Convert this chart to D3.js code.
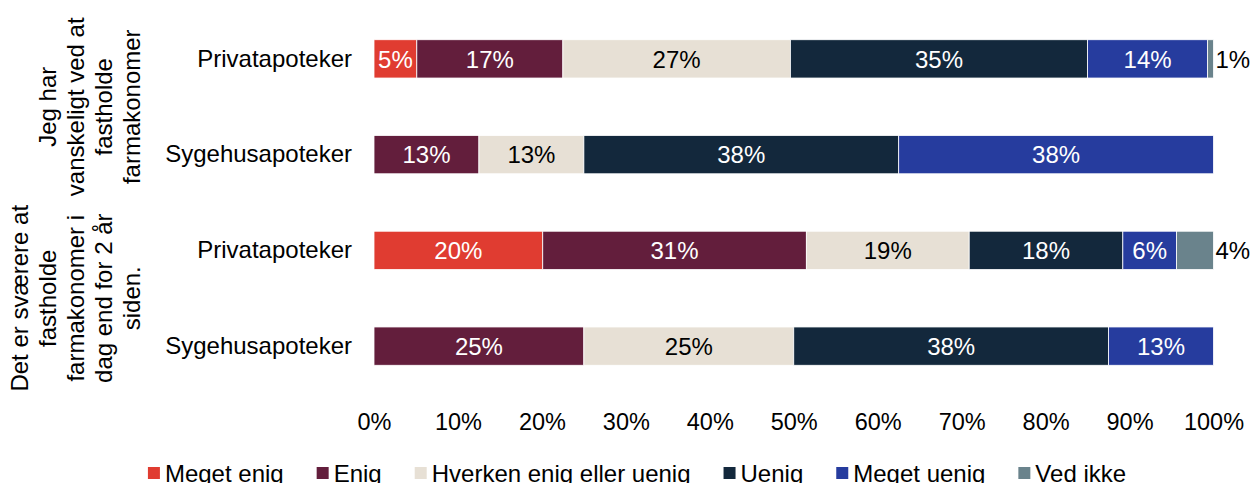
<!DOCTYPE html>
<html>
<head>
<meta charset="utf-8">
<script src="https://cdn.jsdelivr.net/npm/d3@7"></script>
<style>
    body { margin: 0; background: #fff; }
    svg text { font-family: Arial, "Liberation Sans", sans-serif; }
</style>
</head>
<body>
<svg id="bar_chart_svg" width="1253" height="483"></svg>
<script>

// rows, top to bottom
row_labels = ["Privatapoteker", "Sygehusapoteker", "Privatapoteker", "Sygehusapoteker"]
group_labels = [
    ["Jeg har", "vanskeligt ved at", "fastholde", "farmakonomer"],
    ["Det er sværere at", "fastholde", "farmakonomer i", "dag end for 2 år", "siden."]
]
group_rows = [[0, 1], [2, 3]]

series_names = ["Meget enig", "Enig", "Hverken enig eller uenig", "Uenig", "Meget uenig", "Ved ikke"]
series_colors = ["#E03C31", "#631E3C", "#E7E0D5", "#13283C", "#263C9E", "#6A838C"]

// percent per row
meget_enig  = [5.1, 0, 20.1, 0]
enig        = [17.4, 12.5, 31.4, 25]
hverken     = [27.1, 12.5, 19.4, 25]
uenig       = [35.4, 37.5, 18.3, 37.5]
meget_uenig = [14.3, 37.5, 6.4, 12.5]
ved_ikke    = [0.7, 0, 4.4, 0]

x_ticks = [0, 10, 20, 30, 40, 50, 60, 70, 80, 90, 100]

font_size = "24px"
plot_left = 374
plot_right = 1213.5

document.addEventListener('DOMContentLoaded', function () {
    svg = d3.select('#bar_chart_svg');
    drawChart();
});

function drawChart() {
    const all_series = [meget_enig, enig, hverken, uenig, meget_uenig, ved_ikke];

    const rows = row_labels.map((label, i) => {
        const r = { row: i };
        series_names.forEach((s, j) => { r[s] = all_series[j][i]; });
        return r;
    });

    const stacked = d3.stack().keys(series_names)(rows);

    var xScale = d3.scaleLinear()
        .domain([0, 100])
        .range([plot_left, plot_right]);

    var yScale = d3.scaleBand()
        .domain(rows.map(d => d.row))
        .range([11, 394])
        .paddingInner(0.6)
        .paddingOuter(0.3);

    const color = d3.scaleOrdinal().domain(series_names).range(series_colors);

    const layers = svg.selectAll(".layer")
        .data(stacked)
        .enter()
        .append("g")
        .attr("class", "layer")
        .style("fill", d => color(d.key));

    layers.selectAll("rect")
        .data(d => d.filter(p => p[1] - p[0] > 0))
        .enter()
        .append("rect")
        .attr("x", d => xScale(d[0]))
        .attr("width", d => xScale(d[1]) - xScale(d[0]))
        .attr("y", d => yScale(d.data.row))
        .attr("height", yScale.bandwidth())
        .style("stroke", "#fff")
        .style("stroke-width", 0.8);

    // value labels
    stacked.forEach(layer => {
        const outside = layer.key == "Ved ikke";
        const text_color = (layer.key == "Hverken enig eller uenig" || outside) ? "#000" : "#fff";
        svg.append("g")
            .selectAll("text")
            .data(layer.filter(p => p[1] - p[0] > 0))
            .enter()
            .append("text")
            .attr("x", d => outside ? xScale(100) + 2 : (xScale(d[0]) + xScale(d[1])) / 2)
            .attr("y", d => yScale(d.data.row) + yScale.bandwidth() / 2)
            .attr("dy", "0.36em")
            .attr("text-anchor", outside ? "start" : "middle")
            .style("font-size", font_size)
            .style("fill", text_color)
            .text(d => Math.round(d[1] - d[0]) + "%");
    });

    // x axis
    const xAxis = svg.append("g")
        .attr("transform", "translate(0,413)")
        .call(d3.axisBottom(xScale)
            .tickValues(x_ticks)
            .tickFormat(d => d + "%")
            .tickSize(0)
            .tickPadding(0));
    xAxis.select(".domain").remove();
    xAxis.selectAll("text")
        .attr("dy", "0.71em")
        .style("font-size", "23.5px")
        .style("font-family", "Arial, 'Liberation Sans', sans-serif")
        .style("fill", "#000");

    // y axis
    const yAxis = svg.append("g")
        .attr("transform", "translate(" + plot_left + ",0)")
        .call(d3.axisLeft(yScale)
            .tickFormat(i => row_labels[i])
            .tickSize(0)
            .tickPadding(22));
    yAxis.select(".domain").remove();
    yAxis.selectAll("text")
        .style("font-size", font_size)
        .style("font-family", "Arial, 'Liberation Sans', sans-serif")
        .style("fill", "#000");

    // rotated group labels
    group_labels.forEach((lines, g) => {
        const rs = group_rows[g];
        const cy = (yScale(rs[0]) + yScale(rs[rs.length - 1]) + yScale.bandwidth()) / 2;
        const last_x = 140;
        lines.forEach((line, k) => {
            const bx = last_x - (lines.length - 1 - k) * 28;
            svg.append("text")
                .attr("transform", "translate(" + bx + "," + cy + ") rotate(-90)")
                .attr("text-anchor", "middle")
                .style("font-size", font_size)
                .style("fill", "#000")
                .text(line);
        });
    });

    // legend
    const legend = svg.append("g").attr("class", "legend");
    let lx = 0;
    const item_gap = 33;
    series_names.forEach((name, i) => {
        const item = legend.append("g").attr("transform", "translate(" + lx + ",0)");
        item.append("rect")
            .attr("x", 0)
            .attr("y", 467)
            .attr("width", 12)
            .attr("height", 12)
            .style("fill", series_colors[i]);
        const t = item.append("text")
            .attr("x", 17)
            .attr("y", 482)
            .style("font-size", font_size)
            .style("fill", "#000")
            .text(name);
        lx += 17 + t.node().getComputedTextLength() + item_gap;
    });
    const legend_width = lx - item_gap;
    legend.attr("transform", "translate(" + (151 + (972 - legend_width) / 2) + ",0)");
}

</script>
</body>
</html>
